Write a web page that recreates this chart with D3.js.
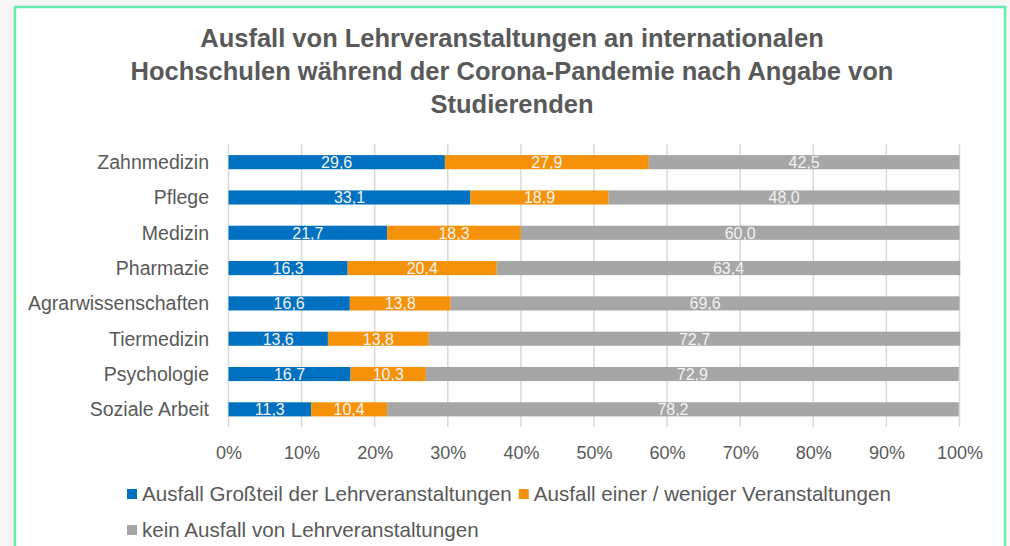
<!DOCTYPE html>
<html>
<head>
<meta charset="utf-8">
<script src="https://cdn.jsdelivr.net/npm/d3@7"></script>
<style>
  body { margin: 0; background: #f7f5f5; }
  svg { display: block; }
</style>
</head>
<body>
<script>
// Fächer von oben nach unten
const categories = ["Zahnmedizin", "Pflege", "Medizin", "Pharmazie", "Agrarwissenschaften", "Tiermedizin", "Psychologie", "Soziale Arbeit"];
const seriesNames = ["Ausfall Großteil der Lehrveranstaltungen", "Ausfall einer / weniger Veranstaltungen", "kein Ausfall von Lehrveranstaltungen"];
const ausfallGross = [29.6, 33.1, 21.7, 16.3, 16.6, 13.6, 16.7, 11.3];
const ausfallWenig = [27.9, 18.9, 18.3, 20.4, 13.8, 13.8, 10.3, 10.4];
const keinAusfall = [42.5, 48.0, 60.0, 63.4, 69.6, 72.7, 72.9, 78.2];
const tickValues = [0, 0.1, 0.2, 0.3, 0.4, 0.5, 0.6, 0.7, 0.8, 0.9, 1.0];
const titleLines = ["Ausfall von Lehrveranstaltungen an internationalen", "Hochschulen während der Corona-Pandemie nach Angabe von", "Studierenden"];
const colors = ["#0070c0", "#f59209", "#a6a6a6"];

const width = 1010, height = 546;

const svg = d3.select('body')
    .append('svg')
    .attr("width", width)
    .attr("height", height);

// weisser Rahmen mit gruener Kante
svg.append('rect')
    .attr('x', 15).attr('y', 7)
    .attr('width', 990).attr('height', 560)
    .attr('fill', '#fff')
    .attr('stroke', '#66eeae')
    .attr('stroke-width', 2.5);

const title = svg.append('text')
    .attr('text-anchor', 'middle')
    .attr('font-family', 'Liberation Sans, Arial, sans-serif')
    .attr('font-weight', 'bold')
    .attr('font-size', 25.5)
    .attr('fill', '#595959');
title.selectAll('tspan')
    .data(titleLines)
    .enter().append('tspan')
    .attr('x', 512)
    .attr('y', (d, i) => 47 + i * 33)
    .text(d => d);

const rows = categories.map((c, i) => ({ cat: c, vals: [ausfallGross[i], ausfallWenig[i], keinAusfall[i]] }));

const x = d3.scaleLinear().domain([0, 1]).range([228.5, 959.5]);
const y = d3.scaleBand().domain(categories).range([144.5, 427]).paddingInner(0.6).paddingOuter(0.3);

// Gitterlinien
svg.append('g')
    .selectAll('line')
    .data(tickValues)
    .enter().append('line')
    .attr('x1', d => x(d)).attr('x2', d => x(d))
    .attr('y1', 144).attr('y2', 427)
    .attr('stroke', '#d9d9d9')
    .attr('stroke-width', 1.5);

const xAxis = svg.append('g')
    .attr('transform', 'translate(0,427)')
    .call(d3.axisBottom(x).tickValues(tickValues).tickFormat(d3.format('.0%')).tickSize(0).tickPadding(19));
xAxis.select('.domain').remove();
xAxis.selectAll('text')
    .attr('font-family', 'Liberation Sans, Arial, sans-serif')
    .attr('font-size', 18)
    .attr('fill', '#595959');

const yAxis = svg.append('g')
    .attr('transform', 'translate(218,0)')
    .call(d3.axisLeft(y).tickSize(0).tickPadding(9));
yAxis.select('.domain').remove();
yAxis.selectAll('text')
    .attr('font-family', 'Liberation Sans, Arial, sans-serif')
    .attr('font-size', 19.5)
    .attr('fill', '#595959')
    .attr('dy', '0.35em');

const stack = d3.stack()
    .keys([0, 1, 2])
    .value((d, k) => d.vals[k] / 100);
const layers = stack(rows);

const layerG = svg.append('g')
    .selectAll('g')
    .data(layers)
    .enter().append('g')
    .attr('fill', (d, i) => colors[i]);

layerG.selectAll('rect')
    .data(d => d)
    .enter().append('rect')
    .attr('x', d => x(d[0]))
    .attr('y', d => y(d.data.cat))
    .attr('width', d => x(d[1]) - x(d[0]))
    .attr('height', y.bandwidth());

layerG.selectAll('text')
    .data((d, i) => d.map(s => ({ s: s, k: i })))
    .enter().append('text')
    .attr('x', d => (x(d.s[0]) + x(d.s[1])) / 2)
    .attr('y', d => y(d.s.data.cat) + y.bandwidth() / 2 + 6)
    .attr('text-anchor', 'middle')
    .attr('font-family', 'Liberation Sans, Arial, sans-serif')
    .attr('font-size', 16)
    .attr('fill', '#f2f2f2')
    .text(d => d3.format('.1f')(d.s.data.vals[d.k]).replace('.', ','));

// Legende
const legend = svg.append('g')
    .attr('font-family', 'Liberation Sans, Arial, sans-serif')
    .attr('font-size', 20.6)
    .attr('fill', '#595959');

let lx = 127;
seriesNames.forEach((name, i) => {
    const row = i < 2 ? 0 : 1;
    if (i === 2) lx = 127;
    const ly = 494 + row * 36;
    const item = legend.append('g');
    item.append('rect')
        .attr('x', lx).attr('y', ly - 5)
        .attr('width', 10).attr('height', 10)
        .attr('fill', colors[i]);
    const t = item.append('text')
        .attr('x', lx + 15).attr('y', ly + 7)
        .attr('fill', '#595959')
        .text(name);
    lx = lx + 15 + t.node().getComputedTextLength() + 7;
});
</script>
</body>
</html>
